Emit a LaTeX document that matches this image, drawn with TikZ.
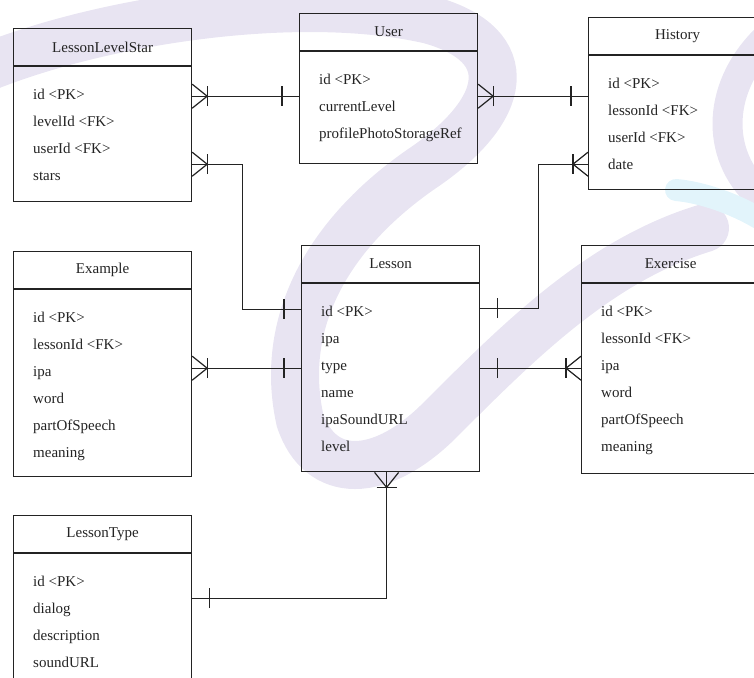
\documentclass[tikz,border=0pt]{standalone}
\usepackage{fontspec}
\setmainfont{Liberation Serif}
\usetikzlibrary{calc,positioning}
\definecolor{erline}{RGB}{35,35,35}
\definecolor{wmlav}{RGB}{232,228,242}
\definecolor{wmcyan}{RGB}{226,244,251}
\tikzstyle{ehead} = [draw=erline, line width=1.2pt, anchor=north west, minimum width=178pt, minimum height=37pt, inner sep=0pt, font=\fontsize{15}{17}\selectfont, text=erline]
\tikzstyle{ebody} = [draw=erline, line width=1.2pt, anchor=north west, minimum width=178pt, inner sep=0pt]
\tikzstyle{attr} = [anchor=base west, inner sep=0pt, font=\fontsize{15}{17}\selectfont, text=erline]
\tikzstyle{rel} = [line width=1.2pt, draw=erline]
\tikzstyle{wmark} = [line cap=round, line width=48pt]
\tikzset{
  crowmany/.pic={\draw[rel] (0,12) -- (15,0) -- (0,-12); \draw[rel] (15,10) -- (15,-10);},
  crowone/.pic={\draw[rel] (17,10) -- (17,-10);}
}

\begin{document}
\begin{tikzpicture}[x=1pt, y=-1pt]
\useasboundingbox (0,0) rectangle (754,677);

% faint logo in the background
\draw[wmark, wmlav] (-20,70) .. controls (100,20) and (300,-10) .. (430,20) .. controls (520,45) and (510,110) .. (420,170) .. controls (320,240) and (280,330) .. (300,420) .. controls (320,480) and (380,480) .. (440,420) .. controls (520,340) and (600,260) .. (705,228);
\draw[wmark, wmlav, line width=30pt] (765,40) .. controls (715,90) and (715,160) .. (765,200);
\draw[wmark, wmcyan, line width=22pt] (676,190) .. controls (700,192) and (735,203) .. (765,222);

% LessonLevelStar
\node[ehead] (lls) at (13,28) {LessonLevelStar};
\node[ebody, minimum height=135pt] (llsb) at (lls.south west) {};
\foreach \fld [count=\i] in {id <PK>, levelId <FK>, userId <FK>, stars}
  \node[attr] (lls-\i) at ($(llsb.north west)+(20,6+27*\i)$) {\fld};

% User
\node[ehead] (user) at (299,13) {User};
\node[ebody, minimum height=112pt] (userb) at (user.south west) {};
\foreach \fld [count=\i] in {id <PK>, currentLevel, profilePhotoStorageRef}
  \node[attr] (user-\i) at ($(userb.north west)+(20,6+27*\i)$) {\fld};

% History
\node[ehead] (hist) at (588,17) {History};
\node[ebody, minimum height=134pt] (histb) at (hist.south west) {};
\foreach \fld [count=\i] in {id <PK>, lessonId <FK>, userId <FK>, date}
  \node[attr] (hist-\i) at ($(histb.north west)+(20,6+27*\i)$) {\fld};

% Example
\node[ehead] (exmp) at (13,251) {Example};
\node[ebody, minimum height=187pt] (exmpb) at (exmp.south west) {};
\foreach \fld [count=\i] in {id <PK>, lessonId <FK>, ipa, word, partOfSpeech, meaning}
  \node[attr] (exmp-\i) at ($(exmpb.north west)+(20,6+27*\i)$) {\fld};

% Lesson
\node[ehead] (lesson) at (301,245) {Lesson};
\node[ebody, minimum height=188pt] (lessonb) at (lesson.south west) {};
\foreach \fld [count=\i] in {id <PK>, ipa, type, name, ipaSoundURL, level}
  \node[attr] (lesson-\i) at ($(lessonb.north west)+(20,6+27*\i)$) {\fld};

% Exercise
\node[ehead] (exer) at (581,245) {Exercise};
\node[ebody, minimum height=190pt] (exerb) at (exer.south west) {};
\foreach \fld [count=\i] in {id <PK>, lessonId <FK>, ipa, word, partOfSpeech, meaning}
  \node[attr] (exer-\i) at ($(exerb.north west)+(20,6+27*\i)$) {\fld};

% LessonType
\node[ehead] (ltype) at (13,515) {LessonType};
\node[ebody, minimum height=150pt] (ltypeb) at (ltype.south west) {};
\foreach \fld [count=\i] in {id <PK>, dialog, description, soundURL}
  \node[attr] (ltype-\i) at ($(ltypeb.north west)+(20,6+27*\i)$) {\fld};

% LessonLevelStar - User
\coordinate (r1a) at ($(llsb.north east)+(0,30)$);
\coordinate (r1b) at (r1a -| userb.west);
\draw[rel] (r1a) -- (r1b);
\pic at (r1a) {crowmany};
\pic[rotate=180] at (r1b) {crowone};

% User - History
\coordinate (r2a) at ($(userb.north east)+(0,45)$);
\coordinate (r2b) at (r2a -| histb.west);
\draw[rel] (r2a) -- (r2b);
\pic at (r2a) {crowmany};
\pic[rotate=180] at (r2b) {crowone};

% LessonLevelStar - Lesson
\coordinate (r3a) at ($(llsb.north east)+(0,98)$);
\coordinate (r3b) at ($(lessonb.north west)+(0,26)$);
\draw[rel] (r3a) -- ++(50,0) |- (r3b);
\pic at (r3a) {crowmany};
\pic[rotate=180] at (r3b) {crowone};

% Example - Lesson
\coordinate (r4a) at ($(exmpb.north east)+(0,79)$);
\coordinate (r4b) at (r4a -| lessonb.west);
\draw[rel] (r4a) -- (r4b);
\pic at (r4a) {crowmany};
\pic[rotate=180] at (r4b) {crowone};

% Lesson - History
\coordinate (r5a) at ($(lessonb.north east)+(0,25)$);
\coordinate (r5b) at ($(histb.north west)+(0,109)$);
\draw[rel] (r5a) -- ++(58,0) |- (r5b);
\pic at (r5a) {crowone};
\pic[rotate=180] at (r5b) {crowmany};

% Lesson - Exercise
\coordinate (r6a) at ($(lessonb.north east)+(0,85)$);
\coordinate (r6b) at (r6a -| exerb.west);
\draw[rel] (r6a) -- (r6b);
\pic at (r6a) {crowone};
\pic[rotate=180] at (r6b) {crowmany};

% Lesson - LessonType
\coordinate (r7a) at ($(lessonb.south)+(-4,0)$);
\coordinate (r7b) at ($(ltypeb.north east)+(0,45)$);
\draw[rel] (r7a) |- (r7b);
\pic[rotate=-90] at (r7a) {crowmany};
\pic at (r7b) {crowone};
\end{tikzpicture}
\end{document}
